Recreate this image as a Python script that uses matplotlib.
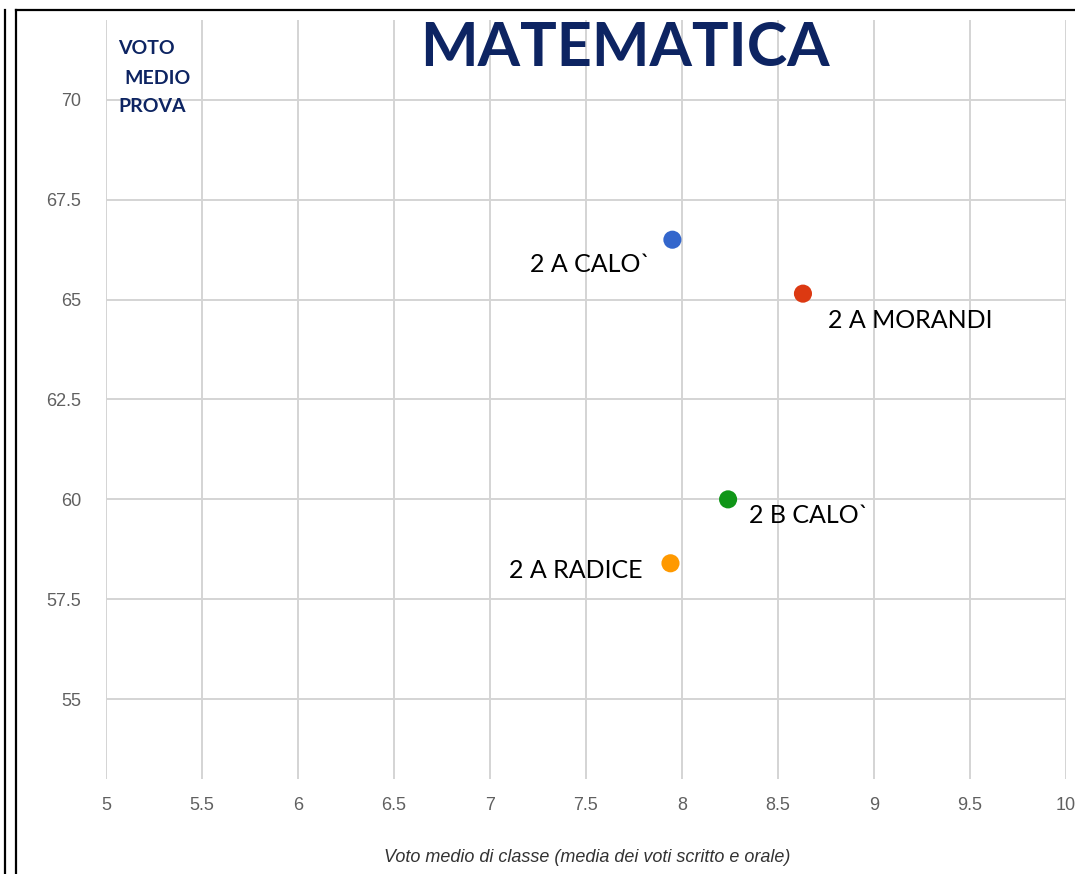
import matplotlib
matplotlib.use('Agg')
import matplotlib.pyplot as plt
from matplotlib.lines import Line2D

# data
classes = ['2 A CALO`', '2 A MORANDI', '2 B CALO`', '2 A RADICE']
class_avg = [7.95, 8.63, 8.24, 7.94]
test_avg = [66.5, 65.15, 60.0, 58.4]
colors = ['#3366cc', '#dc3912', '#109618', '#ff9900']
label_offsets = [(-22, -25, 'right'), (25, -27, 'left'), (21, -16, 'left'), (-28, -7, 'right')]

x_ticks = [5, 5.5, 6, 6.5, 7, 7.5, 8, 8.5, 9, 9.5, 10]
x_tick_labels = ['5', '5.5', '6', '6.5', '7', '7.5', '8', '8.5', '9', '9.5', '10']
y_ticks = [55, 57.5, 60, 62.5, 65, 67.5, 70]
y_tick_labels = ['55', '57.5', '60', '62.5', '65', '67.5', '70']

W, H = 1075, 874
fig = plt.figure(figsize=(W / 100, H / 100), dpi=100)
ax = fig.add_axes([106 / W, (H - 779) / H, 960 / W, 759 / H])

ax.set_xlim(5, 10)
ax.set_ylim(53, 72)
ax.set_xticks(x_ticks)
ax.set_xticklabels(x_tick_labels, family='Liberation Sans')
ax.set_yticks(y_ticks)
ax.set_yticklabels(y_tick_labels, family='Liberation Sans')
ax.tick_params(length=0, labelsize=13, colors='#606060')
ax.tick_params(axis='y', pad=18)
ax.tick_params(axis='x', pad=13)
for s in ax.spines.values():
    s.set_visible(False)
ax.grid(True, color='#d4d4d4', linewidth=1.4)
ax.set_axisbelow(True)

ax.scatter(class_avg, test_avg, s=170, c=colors, zorder=3, linewidths=0)
for name, x, y, (dx, dy, ha) in zip(classes, class_avg, test_avg, label_offsets):
    ax.annotate(name, (x, y), xytext=(dx, dy), textcoords='offset pixels',
                ha=ha, va='center', fontsize=18, family='Lato', color='black')

ax.set_xlabel('Voto medio di classe (media dei voti scritto e orale)', fontsize=13,
              style='italic', color='#333333', family='Liberation Sans', va='center')
ax.xaxis.set_label_coords((587 - 106) / 960, -(857 - 779) / 759)

navy = '#0d2462'
fig.text(625 / W, 1 - 48 / H, 'MATEMATICA', ha='center', va='center', fontsize=44,
         weight='bold', family='Lato', color=navy)
fig.text(118 / W, 1 - 48 / H, 'VOTO', ha='left', va='center', fontsize=14,
         weight='bold', family='Lato', color=navy)
fig.text(124 / W, 1 - 78 / H, 'MEDIO', ha='left', va='center', fontsize=14,
         weight='bold', family='Lato', color=navy)
fig.text(118 / W, 1 - 107 / H, 'PROVA', ha='left', va='center', fontsize=14,
         weight='bold', family='Lato', color=navy)

# surrounding frame lines
fig.add_artist(Line2D([5 / W, 5 / W], [0, 1 - 10 / H], color='black', lw=1.6))
fig.add_artist(Line2D([16 / W, 16 / W], [0, 1 - 10 / H], color='black', lw=1.6))
fig.add_artist(Line2D([16 / W, 1], [1 - 10 / H, 1 - 10 / H], color='black', lw=1.6))

fig.savefig('out.png', dpi=100)
